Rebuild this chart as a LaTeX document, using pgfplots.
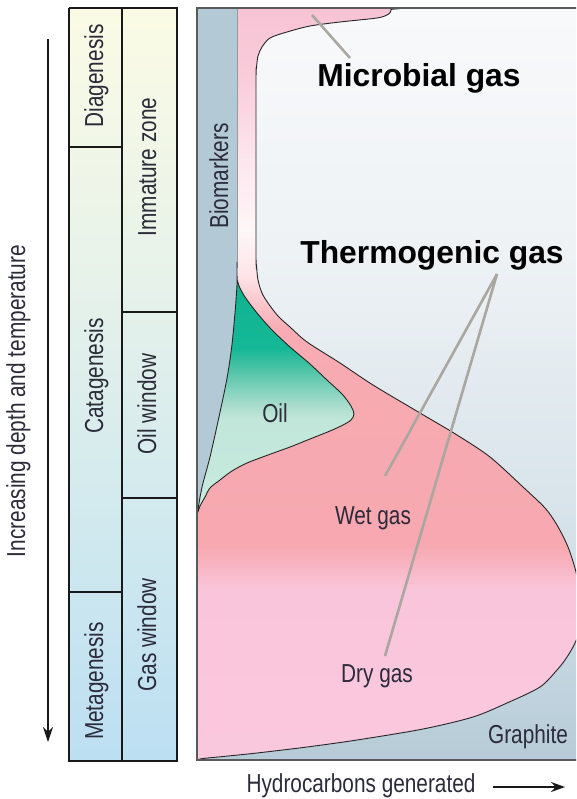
\documentclass[border=0pt]{standalone}
\usepackage{pgfplots}
\pgfplotsset{compat=1.18}
\usepackage{fontspec}
\setmainfont{Liberation Sans}
\newfontfamily\cond[FakeStretch=0.8]{Liberation Sans}
\usetikzlibrary{arrows.meta}

\definecolor{txt}{HTML}{2B2B3A}
\definecolor{lead}{HTML}{A9A79F}
\definecolor{bio}{HTML}{B3C9D5}
\definecolor{boxline}{HTML}{5A5A5A}
% table
\definecolor{tA}{HTML}{FBFBE5}
\definecolor{tB}{HTML}{E9F3E9}
\definecolor{tC}{HTML}{D3EAEE}
\definecolor{tD}{HTML}{BCDFF2}
% background
\definecolor{bA}{HTML}{F8F9FB}
\definecolor{bB}{HTML}{EEF2F5}
\definecolor{bC}{HTML}{D7E3EA}
\definecolor{bD}{HTML}{BFD2DD}
\definecolor{bE}{HTML}{B6CBD7}
% pink
\definecolor{pA}{HTML}{F7C3D4}
\definecolor{pB}{HTML}{F9CDDB}
\definecolor{pC}{HTML}{FDE6EE}
\definecolor{pD}{HTML}{FFF6F8}
\definecolor{pE}{HTML}{FDE4E8}
\definecolor{pF}{HTML}{F8ABB2}
\definecolor{pG}{HTML}{F7A8B0}
\definecolor{pH}{HTML}{F9C5DA}
\definecolor{pI}{HTML}{FAC8DD}
% green
\definecolor{gA}{HTML}{10B290}
\definecolor{gB}{HTML}{15B896}
\definecolor{gC}{HTML}{4CC3A6}
\definecolor{gD}{HTML}{A6DCCB}
\definecolor{gE}{HTML}{C1E6DA}
\definecolor{gF}{HTML}{C8EADF}

\pgfdeclareverticalshading{tableshade}{100bp}{color(0bp)=(tD); color(25bp)=(tD); color(42.33bp)=(tC); color(58.93bp)=(tB); color(75bp)=(tA); color(100bp)=(tA)}
\pgfdeclareverticalshading{bgshade}{100bp}{color(0bp)=(bE); color(25bp)=(bE); color(28.99bp)=(bD); color(40.96bp)=(bC); color(58.91bp)=(bB); color(75bp)=(bA); color(100bp)=(bA)}
\pgfdeclareverticalshading{pinkshade}{100bp}{color(0bp)=(pI); color(25bp)=(pI); color(36.3bp)=(pH); color(39.3bp)=(pG); color(53.59bp)=(pF); color(57.25bp)=(pE); color(60.24bp)=(pD); color(64.89bp)=(pC); color(70.21bp)=(pB); color(75bp)=(pA); color(100bp)=(pA)}
\pgfdeclareverticalshading{greenshade}{100bp}{color(0bp)=(gF); color(25bp)=(gF); color(45.13bp)=(gE); color(48.38bp)=(gD); color(55.95bp)=(gC); color(60.28bp)=(gB); color(75bp)=(gA); color(100bp)=(gA)}

\begin{document}
\begin{tikzpicture}
\begin{axis}[name=main, scale only axis, width=576pt, height=799pt,
  xmin=0, xmax=576, ymin=0, ymax=799, y dir=reverse, hide axis, clip=true]

% ---- left table ----
\addplot[draw=none, shading=tableshade] coordinates {(69,8) (177,8) (177,761) (69,761) (69,8)};
\addplot[draw=black!90, line width=1.6pt] coordinates {(69,8) (177,8) (177,761) (69,761) (69,8)};
\addplot[draw=black!90, line width=1.6pt] coordinates {(122,8) (122,761)};
\addplot[draw=black!90, line width=1.4pt] coordinates {(69,147) (122,147)};
\addplot[draw=black!90, line width=1.4pt] coordinates {(69,592) (122,592)};
\addplot[draw=black!90, line width=1.4pt] coordinates {(122,312) (177,312)};
\addplot[draw=black!90, line width=1.4pt] coordinates {(122,498) (177,498)};

% ---- depth arrow ----
\addplot[draw=black!90, line width=1.5pt, -{Stealth[length=15pt,width=10pt]}] coordinates {(48,39) (48,742)};

% ---- main background ----
\addplot[draw=none, shading=bgshade] coordinates {(197,8) (580,8) (580,760) (197,760) (197,8)};

% ---- pink (gas) region ----
\addplot[smooth, shading=pinkshade, draw=black!85, line width=0.9pt] coordinates {
 (197,8) (388,8) (391,9.5) (390.5,12) (387,15) (377,18) (340,22) (310,26)
 (287,32) (270,38) (262,47) (258,56) (256.5,68) (256,85) (256,250) (256.5,265)
 (258,280) (262,293) (268,303) (278,316) (290,327) (307,342) (340,363) (373,385)
 (420,413) (457,435) (490,457) (523,487) (545,508) (557,525) (568,547) (576,572)
 (580,595) (581,615) (578,635) (573,647) (565,660) (557,670) (540,687) (507,703)
 (473,717) (423,729) (357,740) (307,747) (257,753) (223,756.5) (203,758.5) (197,760)};

% ---- biomarkers column ----
\addplot[draw=none, fill=bio] coordinates {(197,8) (237,8) (237,262) (197,262) (197,8)};
\addplot[smooth, draw=none, fill=bio] coordinates {
 (237,258) (237,268) (236.7,282) (235,313) (231.7,347) (226.7,380) (218.3,420)
 (210,457) (202.5,485) (199,503) (197.6,512) (197,513) (197,258)};
\addplot[draw=black!40, line width=0.6pt] coordinates {(237,8) (237,268)};

% ---- oil (green) region ----
\addplot[smooth, shading=greenshade, draw=black!85, line width=0.9pt] coordinates {
 (237.2,280) (236.7,290) (235,313) (231.7,347) (226.7,380) (218.3,420) (210,457)
 (202.5,485) (199,503) (197.8,512) (200,506) (205,497) (210,488) (220,480) (232,471)
 (247,463) (268,455) (290,447) (310,439) (330,431) (343,425) (351,420) (354,414)
 (351,406) (342,394) (328,381) (310,364) (290,347) (272,330) (257,313) (245,297)
 (239.5,287) (237.2,280)};
\addplot[smooth, draw=black!85, line width=0.9pt] coordinates {(237,262) (237,272) (237.1,280)};

% ---- leader lines ----
\addplot[draw=lead, line width=2.6pt] coordinates {(312,15) (350,58)};
\addplot[draw=lead, line width=2.6pt] coordinates {(497,274) (385,476)};
\addplot[draw=lead, line width=2.6pt] coordinates {(497,274) (385,656)};

% ---- main box border ----
\addplot[draw=boxline, line width=1.6pt] coordinates {(580,8) (197,8) (197,760) (580,760)};

% ---- bottom arrow ----
\addplot[draw=black!90, line width=1.4pt, -{Stealth[length=14pt,width=10pt]}] coordinates {(493,787) (565,787)};

% ---- texts ----
\node[font=\bfseries\fontsize{31.8}{36}\selectfont, anchor=base] at (419,87) {Microbial gas};
\node[font=\bfseries\fontsize{31.8}{36}\selectfont, anchor=base] at (432,263) {Thermogenic gas};

\tikzset{lab/.style={font=\cond\fontsize{26}{30}\selectfont, text=txt, anchor=base, inner sep=0pt}}
\node[lab] at (275,422) {Oil};
\node[lab] at (373,524) {Wet gas};
\node[lab] at (377,682) {Dry gas};
\node[lab] at (528,743) {Graphite};
\node[lab] at (361,792) {Hydrocarbons generated};
\node[lab, rotate=90] at (228,176) {Biomarkers};
\node[lab, rotate=90] at (25,401) {Increasing depth and temperature};
\node[lab, rotate=90] at (103,76) {Diagenesis};
\node[lab, rotate=90] at (156,167) {Immature zone};
\node[lab, rotate=90] at (103,376) {Catagenesis};
\node[lab, rotate=90] at (156,404) {Oil window};
\node[lab, rotate=90] at (103,681) {Metagenesis};
\node[lab, rotate=90] at (156,635) {Gas window};
\end{axis}
\pgfresetboundingbox
\path[use as bounding box] (main.south west) rectangle (main.north east);
\end{tikzpicture}
\end{document}
